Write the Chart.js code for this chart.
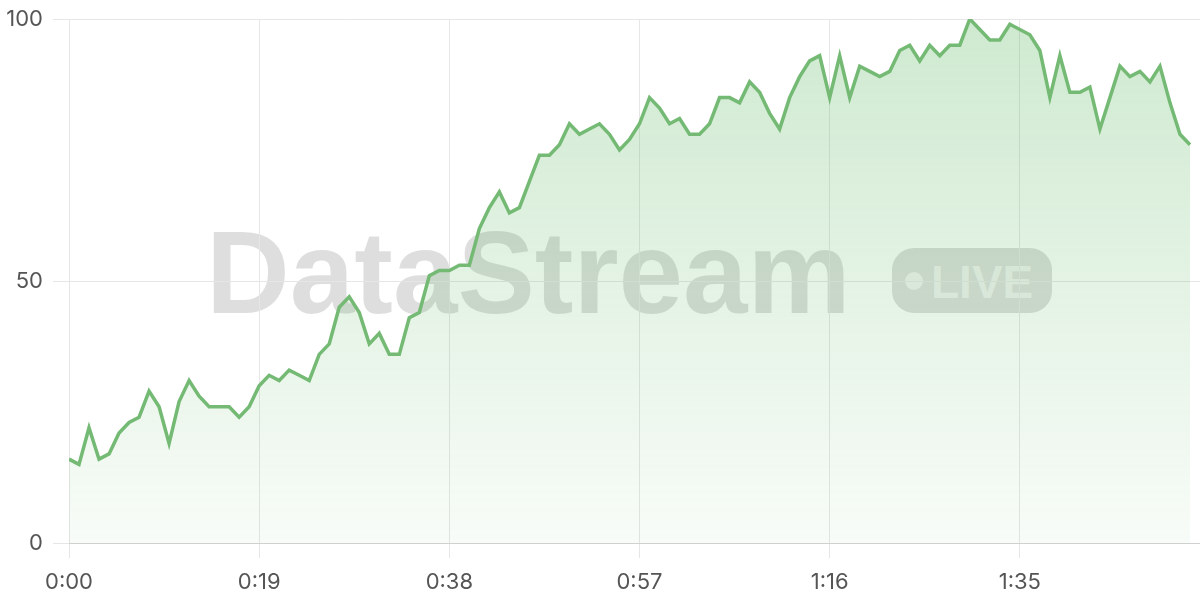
<!DOCTYPE html>
<html>
<head>
<meta charset="utf-8">
<script src="https://cdn.jsdelivr.net/npm/chart.js@4"></script>
<style>
html,body{margin:0;padding:0;background:#fff;}
#wrap{position:relative;width:1200px;height:600px;overflow:hidden;}
#wm{position:absolute;left:0;top:0;width:1200px;height:600px;z-index:0;}
.wm-title{position:absolute;left:206px;top:216px;font-family:'Liberation Sans',Arial,sans-serif;font-weight:700;font-size:116px;line-height:115px;color:rgba(0,0,0,0.13);white-space:nowrap;}
.wm-pill{position:absolute;left:892px;top:248px;width:160px;height:65px;border-radius:22px;background:rgba(0,0,0,0.13);}
.wm-dot{position:absolute;left:13px;top:24px;width:18px;height:18px;border-radius:50%;background:rgba(255,255,255,0.6);}
.wm-live{position:absolute;left:39px;top:11px;font-family:'Liberation Sans',Arial,sans-serif;font-weight:700;font-size:46px;line-height:46px;color:rgba(255,255,255,0.6);white-space:nowrap;}
#c{position:absolute;left:0;top:0;z-index:1;}
</style>
</head>
<body>
<div id="wrap">
  <div id="wm">
    <div class="wm-title">DataStream</div>
    <div class="wm-pill"><div class="wm-dot"></div><div class="wm-live">LIVE</div></div>
  </div>
  <canvas id="c" width="1200" height="600"></canvas>
</div>
<script>
// elapsed seconds (categories)
const seconds = [0,1,2,3,4,5,6,7,8,9,10,11,12,13,14,15,16,17,18,19,20,21,22,23,24,25,26,27,28,29,30,31,32,33,34,35,36,37,38,39,40,41,42,43,44,45,46,47,48,49,50,51,52,53,54,55,56,57,58,59,60,61,62,63,64,65,66,67,68,69,70,71,72,73,74,75,76,77,78,79,80,81,82,83,84,85,86,87,88,89,90,91,92,93,94,95,96,97,98,99,100,101,102,103,104,105,106,107,108,109,110,111,112];
// series values
const values = [
  16,15,22,16,17,21,23,24,29,26,
  19,27,31,28,26,26,26,24,26,30,
  32,31,33,32,31,36,38,45,47,44,
  38,40,36,36,43,44,51,52,52,53,
  53,60,64,67,63,64,69,74,74,76,
  80,78,79,80,78,75,77,80,85,83,
  80,81,78,78,80,85,85,84,88,86,
  82,79,85,89,92,93,85,93,85,91,
  90,89,90,94,95,92,95,93,95,95,
  100,98,96,96,99,98,97,94,85,93,
  86,86,87,79,85,91,89,90,88,91,
  84,78,76
];
// tick labels
const xTickValues = [0,19,38,57,76,95];
const xTickLabels = ['0:00','0:19','0:38','0:57','1:16','1:35'];
const yTickValues = [0,50,100];

const tickFont = {family:'Inter, "Noto Sans", sans-serif', size:22};

new Chart(document.getElementById('c'), {
  type: 'line',
  data: {
    labels: seconds,
    datasets: [{
      data: values,
      borderColor: 'rgb(116,186,116)',
      borderWidth: 3.5,
      pointRadius: 0,
      tension: 0,
      fill: 'origin',
      backgroundColor: (ctx) => {
        const chart = ctx.chart;
        const a = chart.chartArea;
        if (!a) return 'rgba(76,175,80,0.15)';
        const g = chart.ctx.createLinearGradient(0, a.top, 0, a.bottom);
        g.addColorStop(0, 'rgba(76,175,80,0.27)');
        g.addColorStop(1, 'rgba(76,175,80,0.04)');
        return g;
      }
    }]
  },
  options: {
    responsive: false,
    animation: false,
    devicePixelRatio: 1,
    layout: {padding: {top: 19, right: 0, bottom: 0, left: 0}},
    plugins: {legend: {display: false}, tooltip: {enabled: false}},
    scales: {
      x: {
        type: 'linear',
        min: 0,
        max: 113,
        grid: {color: '#e6e6e6', tickLength: 15, lineWidth: 1},
        border: {color: '#d0d0d0', width: 1},
        afterBuildTicks: (s) => { s.ticks = xTickValues.map(v => ({value: v})); },
        ticks: {
          autoSkip: false, maxRotation: 0, minRotation: 0, padding: 11,
          color: '#555', font: tickFont,
          callback: (v) => { const i = xTickValues.indexOf(v); return i >= 0 ? xTickLabels[i] : null; }
        },
        afterFit: (s) => { s.height = 57; s.paddingLeft = 0; s.paddingRight = 0; }
      },
      y: {
        min: 0,
        max: 100,
        grid: {color: '#e6e6e6', tickLength: 16, lineWidth: 1},
        border: {display: false},
        afterBuildTicks: (s) => { s.ticks = yTickValues.map(v => ({value: v})); },
        ticks: {padding: 10, color: '#555', font: tickFont},
        afterFit: (s) => { s.width = 69; s.paddingTop = 0; s.paddingBottom = 0; }
      }
    }
  }
});
</script>
</body>
</html>
